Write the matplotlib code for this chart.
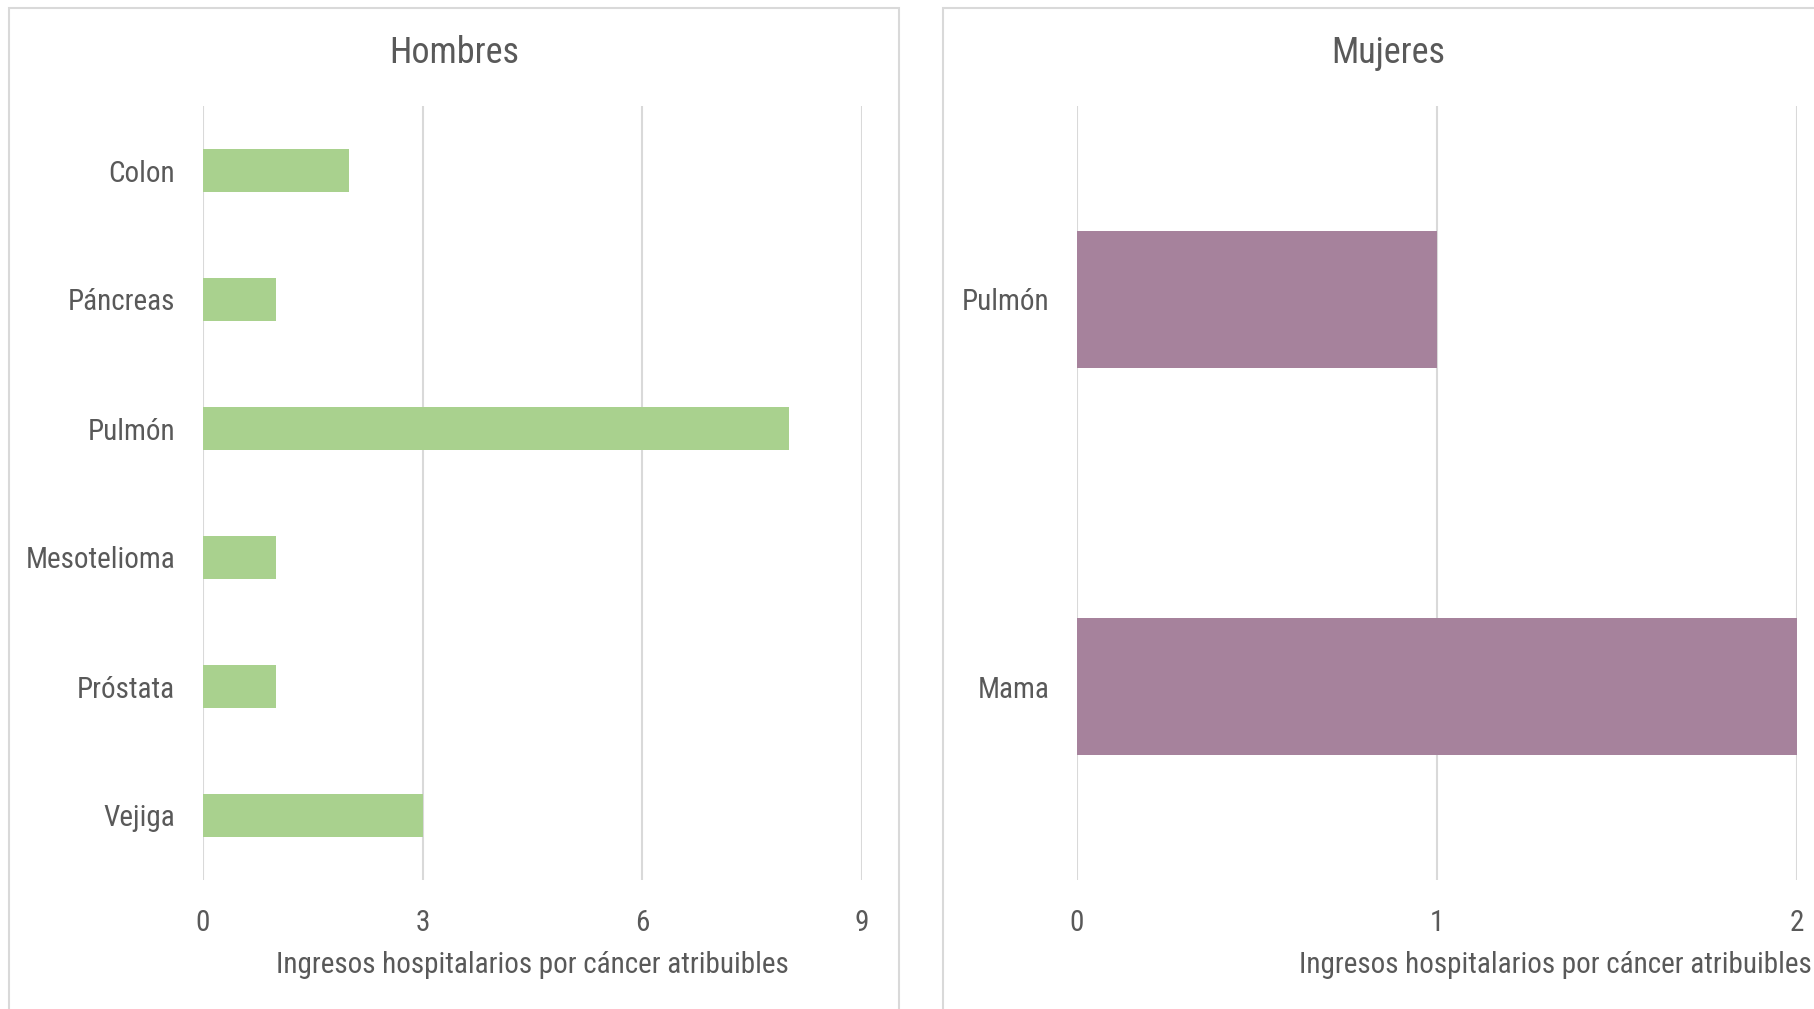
import matplotlib.pyplot as plt
from matplotlib.patches import Rectangle
from matplotlib import font_manager

# data
hombres_cats = ['Colon', 'Páncreas', 'Pulmón', 'Mesotelioma', 'Próstata', 'Vejiga']
hombres_vals = [2, 1, 8, 1, 1, 3]
hombres_ticks = [0, 3, 6, 9]

mujeres_cats = ['Pulmón', 'Mama']
mujeres_vals = [1, 2]
mujeres_ticks = [0, 1, 2]

xlabel = 'Ingresos hospitalarios por cáncer atribuibles'

installed = {f.name for f in font_manager.fontManager.ttflist}
narrow = None
for name in ['Liberation Sans Narrow', 'Roboto Condensed', 'Open Sans Condensed']:
    if name in installed:
        narrow = name
        break
if narrow:
    plt.rcParams['font.family'] = [narrow, 'DejaVu Sans']
    base = 21
else:
    plt.rcParams['font.family'] = ['Liberation Sans', 'DejaVu Sans']
    base = 19

txt = '#595959'
grid = '#d9d9d9'

W, H = 1815, 1009
fig = plt.figure(figsize=(W / 100, H / 100), dpi=100)


def px(x0, y0, x1, y1):
    # pixel box (top-left origin) -> figure fraction rect
    return [x0 / W, 1 - y1 / H, (x1 - x0) / W, (y1 - y0) / H]


# panel frames
fig.patches.append(Rectangle((9 / W, -0.05), 890 / W, 1.05 - 8 / H, transform=fig.transFigure,
                             fill=False, edgecolor=grid, linewidth=1.5))
fig.patches.append(Rectangle((943 / W, -0.05), 0.6, 1.05 - 8 / H, transform=fig.transFigure,
                             fill=False, edgecolor=grid, linewidth=1.5))


def panel(rect, cats, vals, ticks, color, height):
    ax = fig.add_axes(rect)
    y = range(len(cats))
    ax.barh(y, vals, height=height, color=color, zorder=3)
    ax.set_xlim(ticks[0], ticks[-1])
    ax.set_ylim(len(cats) - 0.5, -0.5)
    ax.set_yticks(list(y))
    ax.set_yticklabels(cats)
    ax.set_xticks(ticks)
    for t in ticks:
        ax.axvline(t, color=grid, linewidth=1.5, zorder=1)
    for s in ax.spines.values():
        s.set_visible(False)
    ax.tick_params(length=0, labelsize=base, labelcolor=txt)
    ax.tick_params(axis='x', pad=21)
    ax.tick_params(axis='y', pad=20)
    ax.set_facecolor('none')
    return ax


panel(px(203, 106, 862, 880), hombres_cats, hombres_vals, hombres_ticks, '#a9d18e', 0.34)
panel(px(1077, 106, 1797, 880), mujeres_cats, mujeres_vals, mujeres_ticks, '#a6829c', 0.355)

fig.text(454 / W, 1 - 53 / H, 'Hombres', ha='center', va='center', fontsize=base + 5, color=txt)
fig.text(1388 / W, 1 - 53 / H, 'Mujeres', ha='center', va='center', fontsize=base + 5, color=txt)
fig.text(532 / W, 1 - 965 / H, xlabel, ha='center', va='center', fontsize=base, color=txt)
fig.text(1812 / W, 1 - 965 / H, xlabel, ha='right', va='center', fontsize=base, color=txt)

fig.savefig('out.png', dpi=100, facecolor='white')
